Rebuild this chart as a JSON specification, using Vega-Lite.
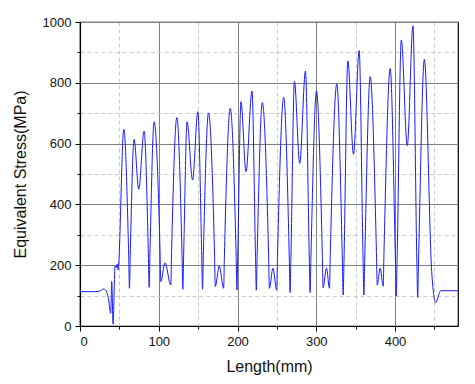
{
  "$schema": "https://vega.github.io/schema/vega-lite/v6.json",
  "autosize": "none",
  "width": 378,
  "height": 304,
  "padding": {"left": 80, "top": 22, "right": 17, "bottom": 58},
  "background": "white",
  "config": {
    "font": "Liberation Sans",
    "view": {"stroke": "black", "strokeWidth": 1.2},
    "axis": {
      "domainColor": "black",
      "domainWidth": 1.2,
      "labelFont": "Liberation Sans",
      "labelFontSize": 13,
      "labelColor": "#111",
      "titleFont": "Liberation Sans",
      "titleFontSize": 16,
      "titleFontWeight": "normal",
      "titleColor": "#111",
      "tickColor": "black",
      "labelPadding": 4
    }
  },
  "data": {
    "values": [
      {"L": 0, "S": 113}, {"L": 20, "S": 113}, {"L": 26, "S": 116}, {"L": 29.7, "S": 122},
      {"L": 33, "S": 116}, {"L": 36, "S": 91}, {"L": 39, "S": 42}, {"L": 40.3, "S": 146},
      {"L": 42, "S": 6}, {"L": 44.5, "S": 197}, {"L": 45.8, "S": 192}, {"L": 47.5, "S": 204},
      {"L": 48.3, "S": 184}, {"L": 55.6, "S": 647},
      {"L": 61.8, "S": 234}, {"L": 62.8, "S": 124}, {"L": 63.8, "S": 234},
      {"L": 68.7, "S": 614},
      {"L": 74.6, "S": 450}, {"L": 81.4, "S": 641},
      {"L": 86.8, "S": 237}, {"L": 87.8, "S": 127}, {"L": 88.8, "S": 237},
      {"L": 94.1, "S": 672},
      {"L": 101.6, "S": 250}, {"L": 102.6, "S": 146}, {"L": 108, "S": 208}, {"L": 115.3, "S": 135}, {"L": 116.3, "S": 245},
      {"L": 123, "S": 686},
      {"L": 129.6, "S": 231}, {"L": 130.6, "S": 121}, {"L": 131.6, "S": 231},
      {"L": 136, "S": 672}, {"L": 142.9, "S": 480}, {"L": 149.7, "S": 705},
      {"L": 154.6, "S": 231}, {"L": 155.6, "S": 121}, {"L": 156.6, "S": 231},
      {"L": 163.2, "S": 701},
      {"L": 170.8, "S": 240}, {"L": 171.8, "S": 130}, {"L": 176.8, "S": 197}, {"L": 182.4, "S": 124}, {"L": 183.4, "S": 234},
      {"L": 190.8, "S": 716},
      {"L": 198.3, "S": 228}, {"L": 199.3, "S": 118}, {"L": 200.3, "S": 228},
      {"L": 204.4, "S": 738},
      {"L": 210.8, "S": 508}, {"L": 218.4, "S": 773},
      {"L": 222.9, "S": 228}, {"L": 223.9, "S": 118}, {"L": 224.9, "S": 228},
      {"L": 231.5, "S": 735},
      {"L": 239.5, "S": 234}, {"L": 240.5, "S": 124}, {"L": 245, "S": 190}, {"L": 249.8, "S": 118}, {"L": 250.8, "S": 228},
      {"L": 258.7, "S": 752},
      {"L": 265.8, "S": 220}, {"L": 266.8, "S": 110}, {"L": 267.8, "S": 220},
      {"L": 272.3, "S": 804}, {"L": 279, "S": 535}, {"L": 286.3, "S": 839},
      {"L": 291.2, "S": 220}, {"L": 292.2, "S": 110}, {"L": 293.2, "S": 220},
      {"L": 300.3, "S": 773},
      {"L": 307.7, "S": 236}, {"L": 308.7, "S": 126}, {"L": 313, "S": 190}, {"L": 316.8, "S": 124}, {"L": 317.8, "S": 234},
      {"L": 326.1, "S": 796},
      {"L": 333.2, "S": 212}, {"L": 334.2, "S": 102}, {"L": 335.2, "S": 212},
      {"L": 340.1, "S": 872},
      {"L": 347.3, "S": 565}, {"L": 354.5, "S": 906},
      {"L": 359.5, "S": 212}, {"L": 360.5, "S": 102}, {"L": 361.5, "S": 212},
      {"L": 368.5, "S": 820},
      {"L": 376.4, "S": 245}, {"L": 377.4, "S": 135}, {"L": 381.2, "S": 190}, {"L": 385, "S": 131}, {"L": 386, "S": 241},
      {"L": 393.9, "S": 847},
      {"L": 400.6, "S": 209}, {"L": 401.6, "S": 99}, {"L": 402.6, "S": 209},
      {"L": 408, "S": 941}, {"L": 415.6, "S": 593}, {"L": 422.8, "S": 987},
      {"L": 427.8, "S": 204}, {"L": 428.8, "S": 94}, {"L": 429.8, "S": 204},
      {"L": 437.3, "S": 877}, {"L": 446.6, "S": 179}, {"L": 451.7, "S": 77},
      {"L": 458, "S": 116}, {"L": 480, "S": 116}
    ]
  },
  "mark": {"type": "line", "color": "#1a1aff", "strokeWidth": 1, "interpolate": "monotone", "clip": true},
  "encoding": {
    "x": {
      "field": "L", "type": "quantitative",
      "scale": {"domain": [0, 480], "nice": false, "zero": false},
      "axis": {
        "title": "Length(mm)",
        "format": "d",
        "values": [0, 50, 100, 150, 200, 250, 300, 350, 400, 450],
        "labelExpr": "datum.value % 100 === 0 ? datum.label : ''",
        "grid": true,
        "gridColor": {"condition": {"test": "datum.value % 100 !== 0", "value": "#c8c8c8"}, "value": "#808080"},
        "gridDash": {"condition": {"test": "datum.value % 100 !== 0", "value": [4, 3]}, "value": []},
        "gridWidth": 1,
        "tickSize": {"condition": {"test": "datum.value % 100 !== 0", "value": 3}, "value": 5},
        "titlePadding": 10
      }
    },
    "y": {
      "field": "S", "type": "quantitative",
      "scale": {"domain": [0, 1000], "nice": false},
      "axis": {
        "title": "Equivalent Stress(MPa)",
        "format": "d",
        "values": [0, 100, 200, 300, 400, 500, 600, 700, 800, 900, 1000],
        "labelExpr": "datum.value % 200 === 0 ? datum.label : ''",
        "grid": true,
        "gridColor": {"condition": {"test": "datum.value % 200 !== 0", "value": "#c8c8c8"}, "value": "#808080"},
        "gridDash": {"condition": {"test": "datum.value % 200 !== 0", "value": [4, 3]}, "value": []},
        "gridWidth": 1,
        "tickSize": {"condition": {"test": "datum.value % 200 !== 0", "value": 3}, "value": 5},
        "titlePadding": 14
      }
    }
  }
}
